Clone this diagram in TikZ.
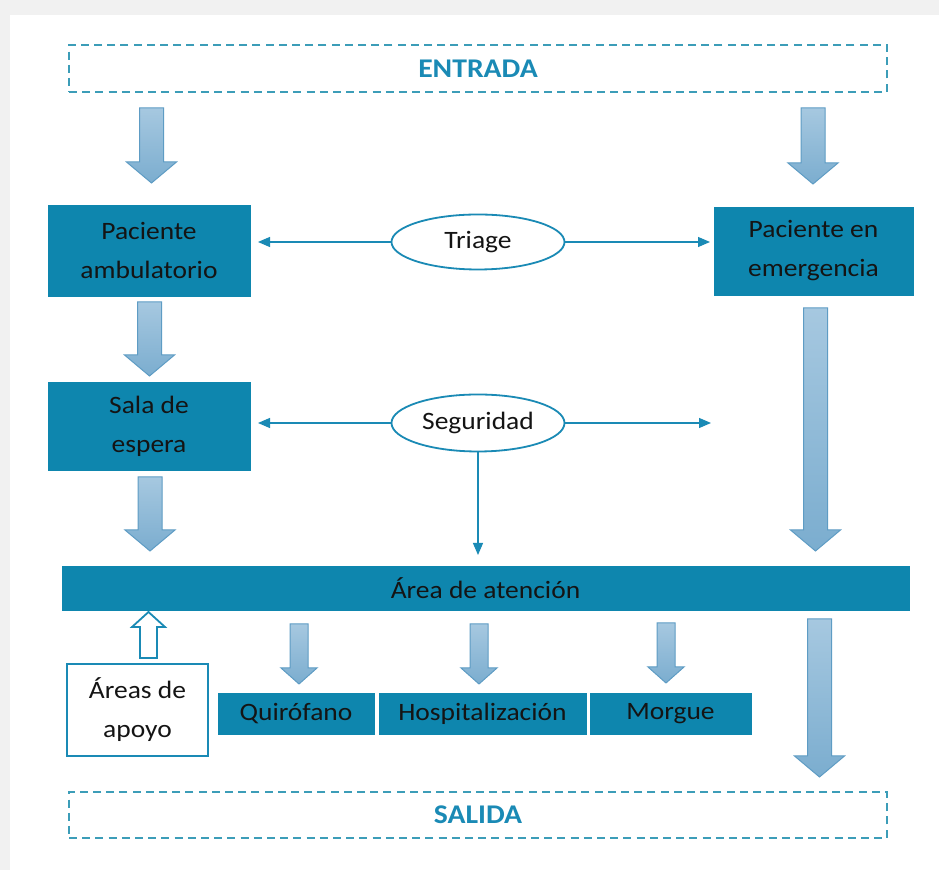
\documentclass[tikz,border=0pt]{standalone}
\usepackage{fontspec}
\setmainfont[FakeStretch=1.1]{Carlito}
\usepackage{tikz}
\usetikzlibrary{shapes.geometric,arrows.meta,positioning,calc}
\definecolor{hspteal}{HTML}{0E86AE}
\definecolor{hspline}{HTML}{1A8AB5}
\definecolor{hspdash}{HTML}{3C9DB8}
\definecolor{hsparrtop}{HTML}{A6C8E0}
\definecolor{hsparrbot}{HTML}{7BADCF}
\definecolor{hsparredge}{HTML}{5E9CC4}
\definecolor{hsptext}{HTML}{141414}
\definecolor{hspframe}{HTML}{F1F1F1}

% fat block arrow: start, tip, shaft half width, head half width, head length
\newcommand{\blockarrow}[6][fatarrow]{%
  \path[#1] let \p1=(#2), \p2=(#3) in
    (\x1-#4,\y1) -- (\x1+#4,\y1) -- (\x1+#4,\y2+#6) -- (\x1+#5,\y2+#6)
    -- (\x1,\y2) -- (\x1-#5,\y2+#6) -- (\x1-#4,\y2+#6) -- cycle;}

\begin{document}
\begin{tikzpicture}[x=0.5pt, y=-0.5pt,
    wardbox/.style={draw=hspteal, fill=hspteal, inner sep=0pt, outer sep=0pt, align=center, text=hsptext, font=\fontsize{12.5}{19.5}\selectfont},
    gatebox/.style={draw=hspdash, dash pattern=on 4pt off 2.6pt, line width=0.8pt, inner sep=0pt, outer sep=0pt, minimum width=409pt, minimum height=23.5pt, text=hspline, font=\fontsize{13.5}{15}\selectfont\bfseries},
    checkpt/.style={ellipse, draw=hspline, line width=0.9pt, fill=white, inner sep=0pt, outer sep=0pt, minimum width=86.5pt, minimum height=27.5pt, text=hsptext, font=\fontsize{12.5}{14}\selectfont},
    link/.style={-{Triangle[length=6pt,width=5pt]}, hspline, line width=0.6pt},
    fatarrow/.style={draw=hsparredge, line width=0.5pt, top color=hsparrtop, bottom color=hsparrbot},
    hollowarrow/.style={draw=hspline, line width=0.9pt, fill=white}
]
    \useasboundingbox (0,0) rectangle (939,870);
    \fill[hspframe] (0,0) rectangle (939,870);
    \fill[white] (10,15) rectangle (939,870);

    % entry and exit
    \node[gatebox] (entrada) at (478,68.5) {ENTRADA};
    \node[gatebox, minimum height=23pt] (salida) at (478,815) {SALIDA};

    % patients and waiting room
    \node[wardbox, minimum width=101pt, minimum height=45.5pt] (amb) at (149,250.5) {Paciente\\ambulatorio};
    \node[wardbox, minimum width=99.5pt, minimum height=44pt] (emer) at (813.5,251) {Paciente en\\emergencia};
    \node[wardbox, minimum width=101pt, minimum height=44pt] (sala) at (149,426) {Sala de\\espera};

    \node[checkpt] (triage) at (478,242) {Triage};
    \node[checkpt, minimum height=28.5pt] (seg) at (478,423) {Seguridad};

    % care area and services
    \node[wardbox, minimum width=423.5pt, minimum height=22pt] (area) at (485.5,588) {Área de atención};
    \node[wardbox, fill=white, draw=hspline, line width=0.9pt, minimum width=70.5pt, minimum height=46pt] (apoyo) at (137.5,710) {Áreas de\\apoyo};
    \node[wardbox, minimum width=78pt, minimum height=20.5pt] (quir) at (296,713.5) {Quirófano};
    \node[wardbox, minimum width=103.5pt, minimum height=20.5pt] (hosp) at (482.5,713.5) {Hospitalización};
    \node[wardbox, minimum width=80.5pt, minimum height=20.5pt] (morg) at (670.5,713.5) {Morgue};

    % thin links
    \draw[link, shorten >=4pt] (triage.west) -- (triage.west -| amb.east);
    \draw[link, shorten >=2pt] (triage.east) -- (triage.east -| emer.west);
    \draw[link, shorten >=4pt] (seg.west) -- (seg.west -| sala.east);
    \coordinate (segend) at (711,423);
    \draw[link] (seg.east) -- (segend);
    \draw[link, shorten >=5.5pt] (seg.south) -- (seg.south |- area.north);

    % block arrows
    \coordinate (a1s) at (151.5,108); \coordinate (a1e) at (151.5,183);
    \coordinate (a2s) at (813,108);   \coordinate (a2e) at (813,184);
    \coordinate (a3s) at (149.5,302); \coordinate (a3e) at (149.5,376);
    \coordinate (a4s) at (150,477);   \coordinate (a4e) at (150,551);
    \coordinate (a5s) at (815.5,308); \coordinate (a5e) at (815.5,551);
    \coordinate (a6s) at (819.5,619); \coordinate (a6e) at (819.5,777);
    \blockarrow{a1s}{a1e}{6pt}{12.5pt}{10.5pt}
    \blockarrow{a2s}{a2e}{6pt}{12.5pt}{10.5pt}
    \blockarrow{a3s}{a3e}{6pt}{12.5pt}{10.5pt}
    \blockarrow{a4s}{a4e}{6pt}{12.5pt}{10.5pt}
    \blockarrow{a5s}{a5e}{6pt}{12.5pt}{10.5pt}
    \blockarrow{a6s}{a6e}{6pt}{12.5pt}{10.5pt}

    \coordinate (q1) at (299,624); \coordinate (q2) at (299,684);
    \coordinate (h1) at (479,624); \coordinate (h2) at (479,684);
    \coordinate (m1) at (666,623); \coordinate (m2) at (666,683);
    \blockarrow{q1}{q2}{4.5pt}{9pt}{8pt}
    \blockarrow{h1}{h2}{4.5pt}{9pt}{8pt}
    \blockarrow{m1}{m2}{4.5pt}{9pt}{8pt}

    \coordinate (s1) at (148.5,658); \coordinate (s2) at (148.5,612);
    \blockarrow[hollowarrow]{s1}{s2}{4.25pt}{8.25pt}{-7.5pt}
\end{tikzpicture}
\end{document}
